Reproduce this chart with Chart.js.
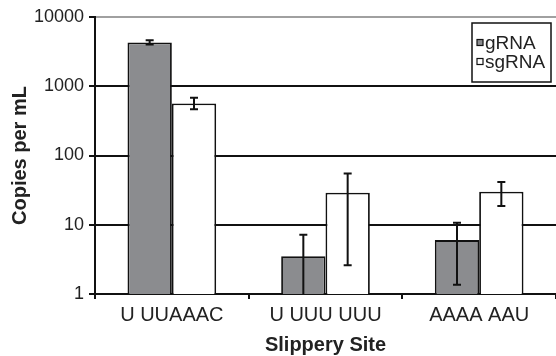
<!DOCTYPE html>
<html>
<head>
<meta charset="utf-8">
<script src="https://cdn.jsdelivr.net/npm/chart.js@4/dist/chart.umd.min.js"></script>
<style>
  html, body { margin: 0; padding: 0; background: #fff; }
  canvas { display: block; }
</style>
</head>
<body>
<canvas id="chart" width="556" height="356"></canvas>
<script>
// Values (log scale)
var sites = ['U UUAAAC', 'U UUU UUU', 'AAAA AAU'];
var yTicks = [1, 10, 100, 1000, 10000];

var gRNA = [4300, 3.5, 6.0];
var gRNAHigh = [4600, 7.2, 10.7];
var gRNALow = [4000, 0.5, 1.36];

var sgRNA = [565, 29, 30];
var sgRNAHigh = [680, 55, 41.5];
var sgRNALow = [465, 2.6, 18.6];

const FONT = "'Liberation Sans', Arial, sans-serif";
const TEXT = '#222';

// error bars, drawn through the y scale
var errorBars = {
  id: 'errorBars',
  afterDatasetsDraw: function (chart) {
    var ctx = chart.ctx;
    var area = chart.chartArea;
    var y = chart.scales.y;
    ctx.save();
    ctx.strokeStyle = '#111';
    ctx.lineWidth = 2;
    chart.data.datasets.forEach(function (ds, i) {
      var meta = chart.getDatasetMeta(i);
      meta.data.forEach(function (bar, j) {
        var top = y.getPixelForValue(ds.high[j]);
        var bot = y.getPixelForValue(ds.low[j]);
        var capTop = top >= area.top, capBot = bot <= area.bottom;
        top = Math.max(top, area.top);
        bot = Math.min(bot, area.bottom);
        ctx.beginPath();
        ctx.moveTo(bar.x, top);
        ctx.lineTo(bar.x, bot);
        if (capTop) { ctx.moveTo(bar.x - 4, top); ctx.lineTo(bar.x + 4, top); }
        if (capBot) { ctx.moveTo(bar.x - 4, bot); ctx.lineTo(bar.x + 4, bot); }
        ctx.stroke();
      });
    });
    ctx.restore();
  }
};

// boxed legend inside the plot, top right
var boxLegend = {
  id: 'boxLegend',
  afterDraw: function (chart) {
    var ctx = chart.ctx;
    var area = chart.chartArea;
    var x = area.right - 84, yy = area.top + 6, w = 79, h = 59;
    ctx.save();
    ctx.fillStyle = '#fff';
    ctx.fillRect(x, yy, w, h);
    ctx.strokeStyle = '#111';
    ctx.lineWidth = 1.5;
    ctx.strokeRect(x, yy, w, h);
    ctx.font = '19px ' + FONT;
    ctx.textBaseline = 'middle';
    chart.data.datasets.forEach(function (ds, i) {
      var cy = yy + 19.5 + i * 19;
      ctx.fillStyle = ds.backgroundColor;
      ctx.fillRect(x + 5, cy - 3, 6, 6);
      ctx.lineWidth = 1.2;
      ctx.strokeRect(x + 5, cy - 3, 6, 6);
      ctx.fillStyle = TEXT;
      ctx.fillText(ds.label, x + 13, cy + 1);
    });
    ctx.restore();
  }
};

new Chart(document.getElementById('chart'), {
  type: 'bar',
  data: {
    labels: sites,
    datasets: [
      { label: 'gRNA', data: gRNA, high: gRNAHigh, low: gRNALow,
        backgroundColor: '#8b8c8f', borderColor: '#111', borderWidth: 1.8 },
      { label: 'sgRNA', data: sgRNA, high: sgRNAHigh, low: sgRNALow,
        backgroundColor: '#ffffff', borderColor: '#111', borderWidth: 1.8 }
    ]
  },
  options: {
    responsive: false,
    animation: false,
    layout: { padding: { top: 17, right: 0, left: 0, bottom: 0 } },
    datasets: { bar: { categoryPercentage: 0.577, barPercentage: 1.0 } },
    plugins: { legend: { display: false }, tooltip: { enabled: false } },
    scales: {
      x: {
        grid: { drawOnChartArea: false, drawTicks: true, tickLength: 5, tickColor: '#111', lineWidth: 2, offset: true },
        border: { color: '#111', width: 2 },
        ticks: { color: TEXT, font: { family: FONT, size: 20 }, padding: 4, maxRotation: 0 },
        title: { display: true, text: 'Slippery Site', color: TEXT,
                 font: { family: FONT, size: 20, weight: 'bold', lineHeight: 1.2 }, padding: { top: 0, bottom: -1 } },
        afterFit: function (s) { s.height = 62; }
      },
      y: {
        type: 'logarithmic',
        min: 1,
        max: 10000,
        afterBuildTicks: function (s) { s.ticks = yTicks.map(function (v) { return { value: v }; }); },
        grid: {
          color: function (c) { return c.tick && c.tick.value === 10000 ? '#a0a0a0' : '#111'; },
          lineWidth: 2,
          tickLength: 6,
          tickColor: '#111'
        },
        border: { color: '#111', width: 2 },
        ticks: { color: TEXT, font: { family: FONT, size: 18 }, padding: 5,
                 callback: function (v) { return String(v); } },
        title: { display: true, text: 'Copies per mL', color: TEXT,
                 font: { family: FONT, size: 20, weight: 'bold', lineHeight: 1.2 }, padding: { top: 8, bottom: 0 } },
        afterFit: function (s) { s.width = 95; }
      }
    }
  },
  plugins: [errorBars, boxLegend]
});
</script>
</body>
</html>
